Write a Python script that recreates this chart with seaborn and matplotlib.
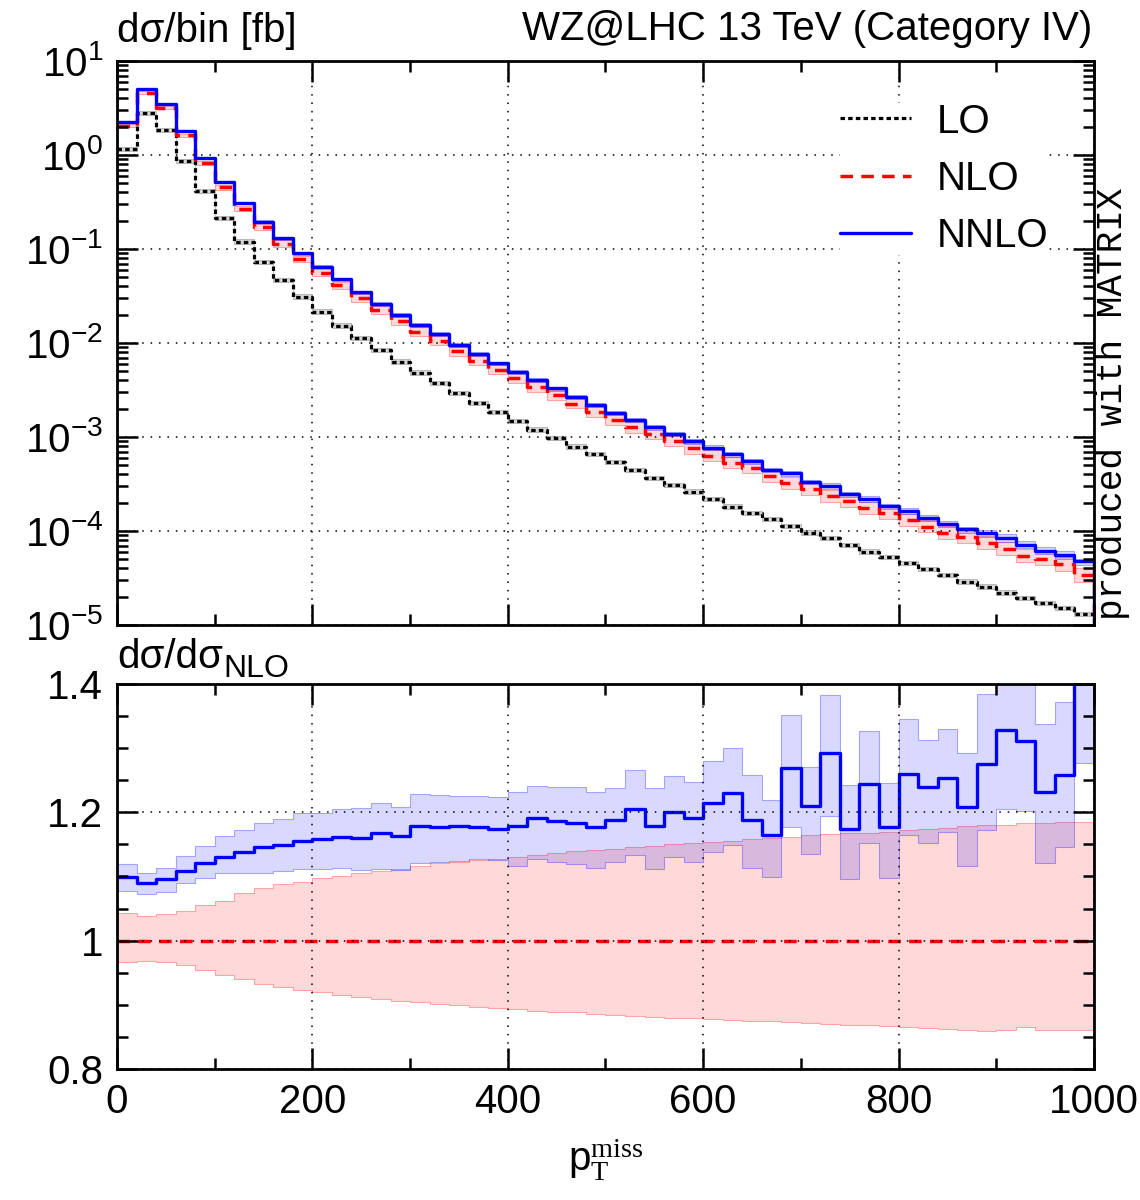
import numpy as np
import pandas as pd
import matplotlib
matplotlib.use("Agg")
import matplotlib.pyplot as plt
import seaborn as sns
from matplotlib.ticker import MultipleLocator, LogLocator, NullFormatter

# 20 GeV bins in missing pT
bin_edges = list(range(0, 1020, 20))

# dsigma/bin [fb]
lo_xsec = [1.16, 2.78, 1.84, 0.863, 0.414, 0.212, 0.12, 0.0728, 0.0468, 0.0311,
           0.0216, 0.0153, 0.0112, 0.00843, 0.00633, 0.00483, 0.00372, 0.00292, 0.00228, 0.00183,
           0.00147, 0.00119, 0.00097, 0.00079, 0.00066, 0.00054, 0.000446, 0.000363, 0.000309, 0.000262,
           0.000219, 0.000182, 0.000154, 0.000133, 0.000113, 0.0000959, 0.0000836, 0.000071, 0.0000602, 0.0000525,
           0.0000453, 0.0000391, 0.000034, 0.0000289, 0.0000256, 0.0000221, 0.0000192, 0.000017, 0.0000151, 0.000013]
nlo_xsec = [2.03, 4.59, 3.16, 1.614, 0.820, 0.451, 0.269, 0.170, 0.1131, 0.0779,
            0.0560, 0.0409, 0.0298, 0.02225, 0.0171, 0.01323, 0.01054, 0.00815, 0.00646, 0.00519,
            0.00421, 0.00339, 0.00277, 0.002265, 0.00186, 0.001524, 0.001261, 0.001077, 0.0009, 0.000755,
            0.000634, 0.000533, 0.000468, 0.000383, 0.000324, 0.000277, 0.000233, 0.000209, 0.000176, 0.000156,
            0.0001294, 0.0001114, 0.0000949, 0.0000861, 0.000074, 0.000064, 0.0000542, 0.0000501, 0.0000441, 0.0000337]
nnlo_xsec = [2.23, 5.0, 3.46, 1.79, 0.92, 0.51, 0.306, 0.195, 0.130, 0.090,
             0.0649, 0.0475, 0.0346, 0.026, 0.0199, 0.0156, 0.0124, 0.0096, 0.0076, 0.0061,
             0.00496, 0.00404, 0.00329, 0.00268, 0.00219, 0.00181, 0.00152, 0.00127, 0.00108, 0.00090,
             0.00077, 0.000655, 0.000556, 0.000446, 0.000411, 0.000335, 0.000301, 0.000245, 0.000219, 0.000184,
             0.000163, 0.000138, 0.000119, 0.000104, 0.0000944, 0.000085, 0.000071, 0.0000617, 0.0000555, 0.0000479]

# LO scale band (relative)
lo_rel_up = 1.06
lo_rel_down = 0.95

# ratios to NLO
nnlo_ratio = [1.099, 1.090, 1.0956, 1.109, 1.1215, 1.130, 1.1387, 1.1455, 1.149, 1.1553,
              1.158, 1.1616, 1.160, 1.1683, 1.1636, 1.1792, 1.1766, 1.1782, 1.1771, 1.1745,
              1.1792, 1.1907, 1.1865, 1.183, 1.1771, 1.188, 1.2052, 1.1792, 1.200, 1.1917,
              1.214, 1.2297, 1.188, 1.1647, 1.2686, 1.2104, 1.2925, 1.174, 1.2442, 1.1771,
              1.2593, 1.239, 1.254, 1.2083, 1.2753, 1.3283, 1.3107, 1.2312, 1.2587, 1.42]
nnlo_ratio_up = [1.119, 1.106, 1.113, 1.1325, 1.148, 1.163, 1.173, 1.183, 1.189, 1.1985,
                 1.1995, 1.205, 1.2063, 1.214, 1.209, 1.228, 1.227, 1.226, 1.226, 1.2234,
                 1.232, 1.2415, 1.240, 1.239, 1.2312, 1.2385, 1.2655, 1.2375, 1.2571, 1.2468,
                 1.280, 1.2998, 1.2577, 1.2192, 1.3512, 1.270, 1.3834, 1.2421, 1.3263, 1.2452,
                 1.345, 1.3123, 1.3294, 1.2925, 1.384, 1.45, 1.45, 1.338, 1.3715, 1.50]
nnlo_ratio_down = [1.078, 1.072, 1.076, 1.090, 1.098, 1.105, 1.106, 1.106, 1.109, 1.111,
                   1.111, 1.1128, 1.110, 1.111, 1.110, 1.1206, 1.122, 1.1246, 1.1273, 1.125,
                   1.117, 1.1273, 1.123, 1.119, 1.1128, 1.123, 1.1335, 1.111, 1.131, 1.123,
                   1.1387, 1.149, 1.1128, 1.0988, 1.1767, 1.135, 1.1935, 1.0956, 1.1517, 1.097,
                   1.1647, 1.1527, 1.17, 1.117, 1.172, 1.205, 1.2026, 1.1215, 1.1465, 1.2774]
nlo_ratio_up = [1.0426, 1.0385, 1.041, 1.046, 1.0556, 1.062, 1.0748, 1.0816, 1.0883, 1.092,
                1.097, 1.1008, 1.105, 1.1086, 1.1122, 1.117, 1.1206, 1.122, 1.1257, 1.128,
                1.131, 1.134, 1.137, 1.139, 1.141, 1.143, 1.146, 1.148, 1.150, 1.152,
                1.154, 1.156, 1.158, 1.160, 1.162, 1.164, 1.166, 1.167, 1.168, 1.169,
                1.172, 1.174, 1.176, 1.178, 1.180, 1.181, 1.183, 1.184, 1.185, 1.185]
nlo_ratio_down = [0.966, 0.968, 0.967, 0.962, 0.955, 0.947, 0.940, 0.932, 0.9273, 0.9231,
                  0.9196, 0.9153, 0.9118, 0.9091, 0.9065, 0.904, 0.9013, 0.8993, 0.8971, 0.895,
                  0.893, 0.891, 0.8895, 0.888, 0.886, 0.8845, 0.883, 0.8815, 0.880, 0.879,
                  0.8775, 0.876, 0.875, 0.874, 0.8725, 0.8715, 0.870, 0.869, 0.868, 0.867,
                  0.866, 0.8645, 0.863, 0.8615, 0.859, 0.8605, 0.866, 0.861, 0.860, 0.860]

sns.set_theme(style="ticks")
plt.rcParams["font.family"] = ["Liberation Sans", "DejaVu Sans"]
plt.rcParams["mathtext.fontset"] = "custom"
plt.rcParams["mathtext.rm"] = "Liberation Serif"
plt.rcParams["mathtext.sf"] = "Liberation Sans"
plt.rcParams["mathtext.it"] = "Liberation Serif:italic"
plt.rcParams["axes.unicode_minus"] = True
for key in ["text.color", "axes.labelcolor", "xtick.color", "ytick.color", "axes.edgecolor"]:
    plt.rcParams[key] = "black"

FS = 29
LO_STYLE = dict(color="black", lw=2.3, linestyle=(0, (1.4, 1.0)))
NLO_STYLE = dict(color="red", lw=2.5, linestyle=(0, (3.6, 2.4)))
NNLO_STYLE = dict(color="blue", lw=2.4, linestyle="-")


def step_frame(values, drop=None):
    """Bin values as a step line (steps-post), optionally dropping at the last edge."""
    x = list(bin_edges)
    y = list(values) + [values[-1]]
    if drop is not None:
        x.append(bin_edges[-1])
        y.append(drop)
    return pd.DataFrame({"x": x, "y": y})


def band(ax, low, high, rgb, alpha):
    lo_ = list(low) + [low[-1]]
    hi_ = list(high) + [high[-1]]
    ax.fill_between(bin_edges, lo_, hi_, step="post",
                    facecolor=(*rgb, alpha), edgecolor=(*rgb, alpha + 0.15),
                    linewidth=0.8, zorder=1)


def style_axes(ax):
    for s in ax.spines.values():
        s.set_linewidth(2.0)
        s.set_color("black")
    ax.tick_params(which="both", direction="in", top=True, right=True,
                   labelsize=FS, pad=10, color="black", labelcolor="black")
    ax.tick_params(which="major", length=15, width=1.8)
    ax.tick_params(which="minor", length=8, width=1.8)
    ax.set_xlim(bin_edges[0], bin_edges[-1])
    ax.xaxis.set_major_locator(MultipleLocator(200))
    ax.xaxis.set_minor_locator(MultipleLocator(100))
    ax.grid(True, which="major", color="black", linestyle=(0, (1, 4.5)), lw=1.1)
    ax.set_axisbelow(False)
    ax.set_xlabel("")
    ax.set_ylabel("")


fig = plt.figure(figsize=(11.4, 12), dpi=100)
ax1 = fig.add_axes([0.1026, 0.4792, 0.857, 0.4700])
ax2 = fig.add_axes([0.1026, 0.1092, 0.857, 0.3208])

# ---- upper panel: absolute distributions
nlo = np.array(nlo_xsec)
band(ax1, np.array(lo_xsec) * lo_rel_down, np.array(lo_xsec) * lo_rel_up, (0.5, 0.5, 0.5), 0.3)
band(ax1, nlo * np.array(nlo_ratio_down), nlo * np.array(nlo_ratio_up), (1, 0, 0), 0.15)
band(ax1, nlo * np.array(nnlo_ratio_down), nlo * np.array(nnlo_ratio_up), (0, 0, 1), 0.15)

ymin, ymax = 1e-5, 1e1
for vals, lab, st in [(lo_xsec, "LO", LO_STYLE), (nlo_xsec, "NLO", NLO_STYLE),
                      (nnlo_xsec, "NNLO", NNLO_STYLE)]:
    sns.lineplot(data=step_frame(vals, drop=ymin * 1e-3), x="x", y="y", ax=ax1,
                 drawstyle="steps-post", estimator=None, sort=False,
                 errorbar=None, label=lab, **st)

ax1.set_yscale("log")
ax1.set_ylim(ymin, ymax)
style_axes(ax1)
ax1.yaxis.set_major_locator(LogLocator(base=10, numticks=10))
ax1.yaxis.set_minor_locator(LogLocator(base=10, subs=np.arange(2, 10), numticks=20))
ax1.yaxis.set_minor_formatter(NullFormatter())
ax1.tick_params(labelbottom=False)

leg = ax1.legend(loc="upper right", bbox_to_anchor=(0.974, 0.962), fontsize=FS,
                 frameon=True, framealpha=1, facecolor="white", edgecolor="none",
                 borderpad=0.0, handlelength=1.75, handletextpad=0.65,
                 labelspacing=0.48, fancybox=False)
leg.get_frame().set_linewidth(0)

# ---- lower panel: ratio to NLO
band(ax2, nlo_ratio_down, nlo_ratio_up, (1, 0, 0), 0.15)
band(ax2, nnlo_ratio_down, nnlo_ratio_up, (0, 0, 1), 0.15)
nlo_self = list(nlo / nlo)
sns.lineplot(data=step_frame(nlo_self), x="x", y="y", ax=ax2, drawstyle="steps-post",
             estimator=None, sort=False, errorbar=None, legend=False, **NLO_STYLE)
sns.lineplot(data=step_frame(nnlo_ratio), x="x", y="y", ax=ax2, drawstyle="steps-post",
             estimator=None, sort=False, errorbar=None, legend=False, **NNLO_STYLE)
ax2.set_ylim(0.8, 1.4)
style_axes(ax2)
ax2.yaxis.set_major_locator(MultipleLocator(0.2))
ax2.yaxis.set_minor_locator(MultipleLocator(0.05))
ax2.yaxis.set_major_formatter(matplotlib.ticker.FuncFormatter(lambda v, p: f"{v:g}"))
ax2.set_xlabel(r"p$_\mathrm{T}^\mathrm{miss}$", fontsize=FS, labelpad=12)

# ---- texts
fig.text(0.1026, 0.965, "dσ/bin [fb]", fontsize=FS, ha="left", va="baseline")
fig.text(0.958, 0.9667, "WZ@LHC 13 TeV (Category IV)", fontsize=FS, ha="right", va="baseline")
ratio_lab = fig.text(0.1026, 0.4433, "dσ/dσ", fontsize=FS, ha="left", va="baseline")
fig.canvas.draw()
fig.text(0, 0, "NLO", fontsize=23, ha="left", va="baseline",
         transform=matplotlib.transforms.offset_copy(
             matplotlib.transforms.blended_transform_factory(
                 matplotlib.transforms.IdentityTransform(), fig.transFigure),
             fig=fig, x=ratio_lab.get_window_extent().x1 + 1, y=0.4433 * 1200 - 9,
             units="dots"))
fig.text(0.976, 0.4792 + 0.004, "produced with MATRIX", fontsize=26, rotation=90,
         ha="center", va="bottom", family="Liberation Mono")

fig.savefig("out.png", dpi=100)
